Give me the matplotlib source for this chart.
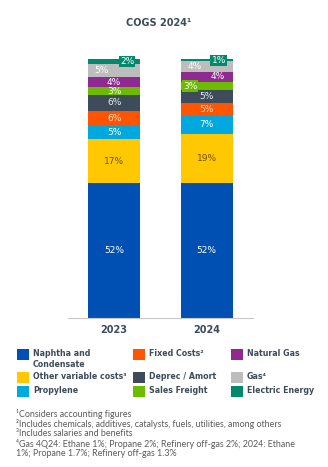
import numpy as np
import matplotlib.pyplot as plt
from matplotlib.patches import Rectangle

# Cost shares (%) stacked bottom to top
years = ['2023', '2024']
components = ['Naphtha and\nCondensate', 'Other variable costs³', 'Propylene',
              'Fixed Costs²', 'Deprec / Amort', 'Sales Freight',
              'Natural Gas', 'Gas⁴', 'Electric Energy']
share_2023 = [52, 17, 5, 6, 6, 3, 4, 5, 2]
share_2024 = [52, 19, 7, 5, 5, 3, 4, 4, 1]

colors = ['#0050b4', '#ffc800', '#00a8e0', '#ff5500', '#3d4b5a',
          '#6cbb00', '#8e2a90', '#bdbdbd', '#00896a']
label_colors = ['white', '#6b5200', 'white', '#ffe3d0', '#e8ecf0',
                'white', 'white', 'white', 'white']

# label nudges (x offset, boxed) for the thin segments
nudges = {
    (0, 7): (-0.14, False), (0, 8): (0.14, True),
    (1, 6): (0.12, False), (1, 7): (-0.13, False),
    (1, 5): (-0.18, True), (1, 8): (0.13, True),
}

text_dark = '#3d4b5a'

fig = plt.figure(figsize=(3.28, 4.67), dpi=100)
ax = fig.add_axes([0.207, 0.319, 0.564, 0.555])

x = np.arange(len(years))
data = np.array([share_2023, share_2024])
bottom = np.zeros(len(years))
for j, comp in enumerate(components):
    vals = data[:, j]
    ax.bar(x, vals, bottom=bottom, width=0.56, color=colors[j], linewidth=0)
    for i in range(len(years)):
        dx, boxed = nudges.get((i, j), (0.0, False))
        kw = {}
        if boxed:
            kw['bbox'] = dict(boxstyle='square,pad=0.12', fc=colors[j], ec='none')
        ax.text(x[i] + dx, bottom[i] + vals[i] / 2, f'{vals[i]}%',
                ha='center', va='center', fontsize=6.5,
                color=label_colors[j], **kw)
    bottom += vals

ax.set_xlim(-0.5, 1.5)
ax.set_ylim(0, 100)
ax.set_yticks([])
ax.set_xticks(x)
ax.set_xticklabels(years, fontsize=7, fontweight='bold', color=text_dark)
ax.tick_params(axis='x', length=0, pad=5)
for s in ['top', 'right', 'left']:
    ax.spines[s].set_visible(False)
ax.spines['bottom'].set_color('#c8c8c8')
ax.spines['bottom'].set_linewidth(0.8)

fig.text(0.485, 0.951, 'COGS 2024¹', ha='center', va='center',
         fontsize=7, fontweight='bold', color=text_dark)

# Legend laid out in three columns
col_x = [17, 133, 231]
row_y = [354, 377, 391]
order = [[0, 1, 2], [3, 4, 5], [6, 7, 8]]
W, H = 328, 467
for c, idxs in enumerate(order):
    for r, j in enumerate(idxs):
        y = row_y[r]
        fig.add_artist(Rectangle((col_x[c] / W, 1 - (y + 5.5) / H), 12 / W, 11 / H,
                                 transform=fig.transFigure, fc=colors[j], ec='none'))
        two_line = '\n' in components[j]
        ty = y - 5 if two_line else y - 0.5
        fig.text((col_x[c] + 16) / W, 1 - ty / H, components[j],
                 ha='left', va='top' if two_line else 'center',
                 fontsize=5.7, fontweight='bold', color=text_dark,
                 linespacing=1.3)

notes = [
    '¹Considers accounting figures',
    '²Includes chemicals, additives, catalysts, fuels, utilities, among others',
    '³Includes salaries and benefits',
    '⁴Gas 4Q24: Ethane 1%; Propane 2%; Refinery off-gas 2%; 2024: Ethane',
    '1%; Propane 1.7%; Refinery off-gas 1.3%',
]
for k, line in enumerate(notes):
    fig.text(16 / W, 1 - (414 + 10 * k) / H, line, ha='left', va='center',
             fontsize=6.4, family=['Lato', 'DejaVu Sans'], color='#5a5a5a')

fig.savefig('out.png', dpi=100)
